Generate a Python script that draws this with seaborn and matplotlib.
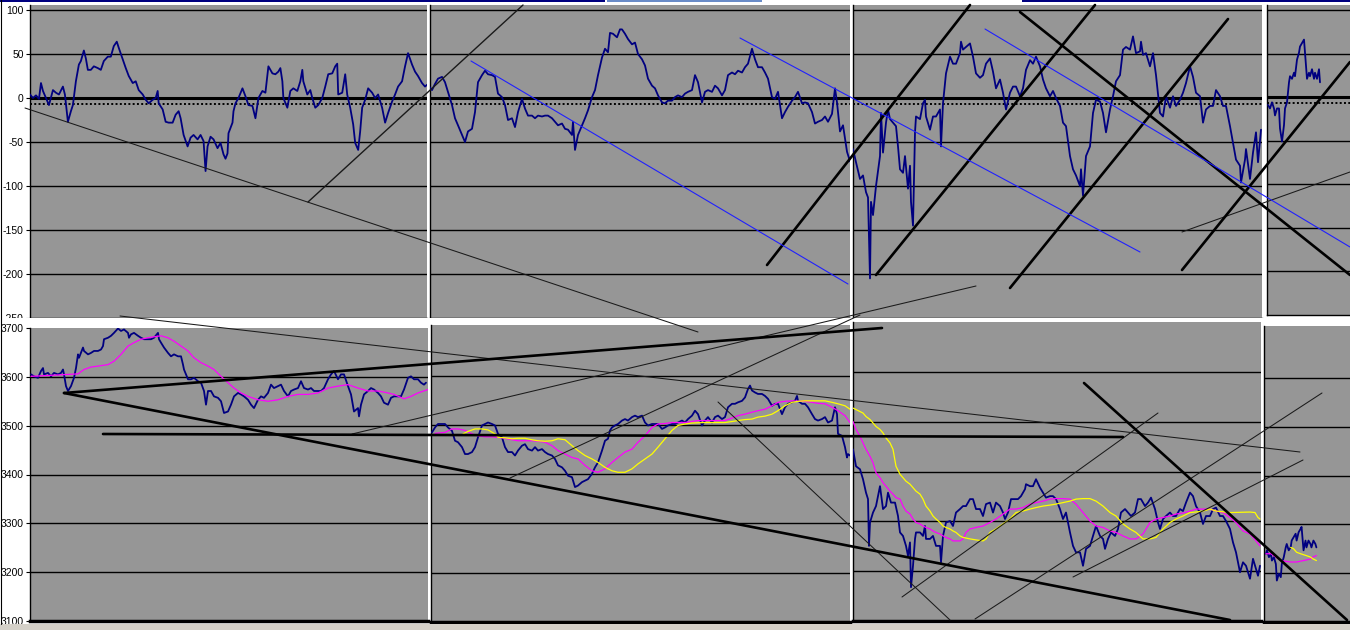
import matplotlib
matplotlib.use("Agg")
import matplotlib.pyplot as plt
import seaborn as sns

# ---- top row: oscillator, (bar, value) per session panel ----
osc_1 = [(0, 4), (3, 0), (6, 3), (9, -1), (11, 17), (13, 8), (16, 0), (19, -8), (23, 9), (26, 6),
         (29, 4), (33, 13), (35, 4), (38, -27), (41, -15), (43, -8), (46, 19), (49, 38), (51, 42), (54, 54),
         (56, 45), (58, 32), (61, 32), (64, 36), (68, 34), (71, 32), (74, 42), (78, 47), (81, 47), (84, 59),
         (87, 64), (89, 57), (93, 44), (96, 34), (99, 25), (103, 17), (106, 19), (109, 9), (113, 4), (116, -2),
         (119, -6), (123, -2), (126, 0), (128, 8), (129, -6), (133, -13), (136, -27), (139, -28), (143, -28), (146, -19),
         (149, -15), (151, -23), (154, -42), (158, -55), (161, -45), (164, -42), (168, -47), (171, -42), (174, -49), (176, -83),
         (178, -55), (181, -44), (184, -47), (188, -57), (191, -51), (194, -64), (196, -69), (198, -63), (199, -40), (203, -28),
         (204, -15), (206, -6), (209, 0), (213, 11), (216, 2), (219, -8), (223, -9), (226, -23), (229, 0), (233, 8),
         (236, 6), (239, 36), (243, 28), (246, 27), (249, 30), (251, 34), (253, 19), (254, 0), (258, -11), (261, 8),
         (264, 11), (268, 8), (271, 19), (273, 32), (274, 19), (278, 4), (281, 9), (283, 0), (286, -11), (289, -8),
         (293, 0), (296, 13), (299, 27), (303, 28), (306, 36), (308, 39), (309, 4), (313, 6), (316, 27), (318, 4),
         (321, -11), (324, -30), (326, -51), (329, -59), (331, -38), (333, -11), (336, -2), (339, 11), (343, 6), (346, 0),
         (349, 4), (353, -11), (356, -28), (359, -17), (363, -4), (366, 4), (369, 13), (373, 19), (376, 36), (379, 51),
         (383, 38), (386, 30), (389, 25), (393, 17), (396, 13), (398, 15)]

osc_2 = [(0, 12), (2, 9), (5, 16), (8, 22), (12, 24), (15, 18), (18, 7), (22, -8), (25, -23), (28, -31),
         (32, -42), (35, -50), (38, -38), (42, -35), (45, -16), (48, 18), (52, 26), (55, 31), (58, 27), (62, 26),
         (65, 24), (68, 5), (72, 1), (75, -8), (78, -25), (82, -23), (85, -33), (88, -16), (92, -1), (95, -12),
         (98, -20), (102, -20), (105, -23), (108, -20), (112, -21), (115, -20), (118, -20), (122, -23), (125, -27), (128, -31),
         (132, -29), (135, -35), (138, -36), (142, -42), (143, -27), (145, -59), (148, -42), (152, -31), (155, -23), (158, -14),
         (162, 1), (165, 9), (168, 26), (172, 46), (175, 56), (178, 52), (180, 74), (183, 73), (187, 69), (190, 78),
         (192, 78), (195, 73), (198, 67), (202, 61), (205, 63), (208, 50), (212, 44), (215, 37), (218, 22), (222, 14),
         (225, 11), (228, 3), (232, -5), (235, -6), (238, -3), (242, -3), (245, 1), (248, 3), (252, 1), (255, 5),
         (258, 7), (262, 9), (265, 26), (268, 18), (272, -5), (275, 7), (278, 9), (282, 7), (285, 14), (288, 11),
         (292, 3), (295, 9), (298, 26), (302, 29), (305, 27), (308, 31), (312, 29), (315, 35), (318, 39), (322, 56),
         (325, 44), (328, 35), (332, 35), (335, 29), (338, 22), (342, 1), (345, -1), (348, 7), (352, -23), (355, -16),
         (358, -10), (362, -3), (365, 1), (368, 7), (372, -6), (375, -5), (378, -6), (382, -16), (385, -29), (388, -27),
         (392, -25), (395, -21), (398, -27), (402, -18), (405, 11), (407, -5), (410, -38), (413, -31), (417, -61), (420, -72)]

osc_3 = [(0, -58), (3, -73), (7, -92), (10, -88), (13, -107), (15, -113), (17, -205), (18, -118), (20, -133), (23, -100),
         (27, -66), (28, -17), (30, -62), (33, -28), (35, -13), (37, -24), (40, -28), (43, -32), (45, -55), (47, -81),
         (50, -85), (52, -66), (55, -103), (57, -77), (58, -118), (60, -145), (62, -39), (63, -21), (67, -24), (70, -6),
         (72, -2), (73, -21), (77, -36), (80, -21), (83, -21), (87, -13), (88, -55), (90, -6), (93, 28), (97, 47),
         (100, 39), (103, 39), (107, 51), (108, 64), (110, 55), (113, 58), (117, 62), (120, 47), (123, 28), (127, 23),
         (130, 26), (133, 39), (137, 45), (140, 30), (143, 11), (147, 21), (150, 6), (153, -13), (157, 6), (160, 13),
         (163, 13), (167, 2), (170, 11), (173, 32), (177, 43), (180, 39), (183, 47), (187, 36), (190, 21), (193, 11),
         (197, 2), (200, 8), (203, 0), (207, -9), (210, -28), (213, -32), (217, -66), (220, -81), (223, -88), (227, -100),
         (228, -81), (230, -111), (233, -66), (237, -55), (240, -17), (243, -2), (247, -4), (250, -17), (253, -39), (257, -13),
         (260, 2), (263, 19), (267, 26), (270, 55), (273, 58), (277, 55), (280, 70), (283, 51), (287, 53), (288, 64),
         (290, 49), (293, 51), (297, 36), (300, 51), (303, 26), (307, -17), (310, -21), (313, 2), (317, -11), (320, 2),
         (323, -9), (327, -2), (330, 6), (333, 17), (337, 36), (340, 24), (343, 6), (347, 2), (350, -28), (353, -13),
         (357, -9), (360, -9), (363, 9), (367, 2), (370, -9), (373, -9), (377, -32), (380, -51), (383, -70), (387, -77),
         (388, -96), (392, -70), (393, -58), (397, -92), (400, -62), (403, -39), (405, -73), (408, -36)]

osc_4 = [(1, -9), (3, -13), (5, -6), (7, -13), (8, -21), (10, -13), (12, -13), (13, -36), (15, -51), (17, -32),
         (18, -13), (20, -6), (22, 17), (23, 24), (25, 21), (27, 28), (28, 24), (30, 43), (32, 51), (33, 58),
         (35, 62), (37, 66), (38, 51), (40, 21), (42, 28), (43, 24), (45, 32), (47, 21), (48, 28), (50, 21),
         (52, 32), (53, 17)]

OSC_DOTTED = -7

# ---- bottom row: price and two moving averages, (bar, value) ----
price_1 = [(0, 3605), (3, 3601), (7, 3598), (10, 3612), (12, 3618), (13, 3605), (17, 3608), (20, 3601), (23, 3608), (27, 3605),
           (30, 3608), (32, 3615), (33, 3605), (35, 3581), (37, 3571), (40, 3581), (43, 3598), (45, 3618), (47, 3646), (48, 3639),
           (52, 3660), (53, 3653), (57, 3646), (60, 3649), (63, 3653), (67, 3653), (70, 3656), (72, 3663), (73, 3677), (77, 3680),
           (80, 3684), (83, 3690), (87, 3699), (90, 3694), (93, 3697), (97, 3690), (98, 3680), (100, 3687), (103, 3690), (107, 3684),
           (110, 3680), (113, 3677), (117, 3677), (120, 3677), (123, 3680), (127, 3690), (128, 3677), (130, 3670), (133, 3660), (137, 3649),
           (140, 3642), (143, 3646), (147, 3642), (150, 3642), (152, 3625), (153, 3615), (157, 3595), (160, 3595), (163, 3598), (167, 3591),
           (170, 3588), (173, 3571), (175, 3543), (177, 3571), (180, 3571), (183, 3560), (187, 3557), (190, 3550), (193, 3526), (197, 3529),
           (200, 3543), (203, 3560), (207, 3567), (210, 3564), (213, 3560), (217, 3553), (220, 3543), (223, 3536), (227, 3553), (230, 3560),
           (233, 3557), (237, 3567), (240, 3584), (243, 3577), (247, 3581), (250, 3584), (253, 3571), (257, 3560), (260, 3571), (263, 3574),
           (267, 3577), (270, 3591), (273, 3577), (277, 3574), (280, 3577), (283, 3571), (287, 3571), (290, 3571), (293, 3577), (297, 3595),
           (300, 3605), (303, 3612), (307, 3595), (310, 3605), (313, 3605), (317, 3581), (320, 3564), (323, 3529), (327, 3536), (328, 3519),
           (330, 3543), (333, 3564), (337, 3571), (340, 3577), (343, 3574), (347, 3567), (350, 3560), (353, 3547), (357, 3543), (360, 3557),
           (363, 3560), (367, 3560), (370, 3560), (373, 3574), (377, 3598), (380, 3601), (383, 3595), (387, 3595), (390, 3588), (393, 3584),
           (395, 3588)]

ma_pink_1 = [(0, 3601), (47, 3606), (53, 3615), (60, 3620), (67, 3622), (77, 3625), (83, 3632), (90, 3646), (97, 3663), (103, 3670),
             (110, 3677), (117, 3680), (123, 3682), (130, 3684), (137, 3680), (143, 3673), (150, 3663), (157, 3653), (163, 3639), (170, 3629),
             (177, 3622), (183, 3615), (190, 3601), (197, 3588), (203, 3577), (210, 3567), (217, 3560), (227, 3553), (237, 3550), (247, 3553),
             (257, 3560), (267, 3564), (277, 3564), (287, 3567), (297, 3577), (307, 3581), (317, 3584), (327, 3577), (337, 3571), (347, 3571),
             (357, 3567), (363, 3564), (373, 3555), (380, 3560), (387, 3567), (397, 3574)]

price_2 = [(1, 3485), (4, 3495), (7, 3502), (11, 3502), (14, 3502), (17, 3495), (21, 3488), (24, 3468), (27, 3465), (31, 3455),
           (34, 3441), (37, 3441), (41, 3445), (44, 3455), (47, 3475), (51, 3499), (54, 3502), (57, 3505), (61, 3502), (64, 3499),
           (67, 3482), (71, 3475), (74, 3455), (77, 3445), (81, 3445), (84, 3438), (87, 3448), (91, 3458), (94, 3461), (97, 3451),
           (101, 3448), (104, 3455), (107, 3448), (111, 3451), (114, 3445), (117, 3441), (121, 3438), (124, 3431), (127, 3418), (131, 3414),
           (134, 3407), (137, 3397), (141, 3394), (144, 3374), (147, 3377), (151, 3384), (154, 3387), (157, 3390), (161, 3401), (164, 3414),
           (167, 3424), (171, 3448), (174, 3468), (177, 3472), (179, 3489), (181, 3495), (184, 3499), (187, 3502), (191, 3509), (194, 3512),
           (197, 3509), (201, 3516), (204, 3519), (207, 3516), (211, 3519), (214, 3505), (217, 3499), (221, 3502), (224, 3502), (227, 3502),
           (231, 3492), (234, 3495), (237, 3499), (241, 3502), (244, 3502), (247, 3505), (251, 3509), (254, 3505), (257, 3512), (261, 3519),
           (264, 3529), (267, 3522), (271, 3499), (274, 3509), (277, 3516), (281, 3505), (284, 3516), (287, 3519), (291, 3512), (294, 3516),
           (297, 3536), (301, 3543), (304, 3543), (307, 3546), (311, 3549), (314, 3556), (317, 3573), (319, 3580), (321, 3570), (324, 3566),
           (327, 3563), (331, 3563), (334, 3559), (337, 3553), (341, 3539), (344, 3543), (347, 3543), (351, 3522), (354, 3536), (357, 3543),
           (361, 3546), (364, 3549), (366, 3559), (367, 3549), (371, 3543), (374, 3543), (377, 3536), (381, 3522), (384, 3512), (387, 3509),
           (391, 3512), (394, 3516), (397, 3505), (401, 3509), (404, 3536), (406, 3522), (407, 3482), (411, 3478), (414, 3455), (416, 3434),
           (417, 3441), (419, 3438)]

ma_pink_2 = [(4, 3483), (14, 3485), (21, 3492), (27, 3492), (34, 3489), (41, 3482), (47, 3478), (54, 3476), (61, 3476), (67, 3475),
             (74, 3473), (81, 3470), (87, 3468), (94, 3468), (101, 3468), (107, 3467), (114, 3465), (121, 3458), (127, 3448), (134, 3441),
             (141, 3434), (147, 3431), (154, 3418), (161, 3407), (167, 3404), (174, 3411), (181, 3424), (187, 3434), (194, 3445), (201, 3451),
             (207, 3465), (214, 3478), (221, 3495), (227, 3502), (234, 3503), (241, 3505), (254, 3505), (267, 3509), (294, 3509), (301, 3514),
             (307, 3519), (314, 3522), (321, 3526), (327, 3529), (334, 3532), (341, 3539), (347, 3546), (354, 3548), (361, 3549), (374, 3548),
             (381, 3546), (387, 3544), (394, 3543), (401, 3536), (407, 3529), (414, 3519), (419, 3505)]

ma_yellow_2 = [(32, 3482), (37, 3487), (44, 3492), (51, 3492), (57, 3490), (64, 3482), (67, 3475), (74, 3474), (81, 3472), (87, 3473),
               (94, 3473), (101, 3470), (107, 3468), (114, 3467), (121, 3468), (127, 3472), (134, 3470), (141, 3458), (147, 3448), (154, 3438),
               (161, 3431), (167, 3424), (174, 3414), (181, 3407), (187, 3404), (194, 3404), (201, 3411), (207, 3421), (214, 3431), (221, 3441),
               (227, 3455), (234, 3472), (241, 3489), (247, 3499), (254, 3502), (261, 3504), (274, 3505), (294, 3505), (301, 3507), (307, 3509),
               (314, 3511), (321, 3512), (327, 3516), (334, 3518), (341, 3522), (347, 3529), (354, 3539), (361, 3546), (367, 3548), (374, 3549),
               (394, 3549), (401, 3546), (407, 3543), (414, 3539), (419, 3532)]

price_3 = [(0, 3445), (3, 3411), (7, 3405), (10, 3385), (13, 3358), (15, 3345), (16, 3251), (17, 3298), (20, 3318), (23, 3331),
           (27, 3371), (30, 3325), (33, 3331), (35, 3358), (38, 3338), (42, 3338), (45, 3311), (47, 3278), (50, 3271), (53, 3251),
           (55, 3231), (57, 3258), (58, 3168), (60, 3211), (62, 3265), (63, 3278), (67, 3278), (70, 3271), (72, 3291), (73, 3265),
           (77, 3265), (80, 3271), (83, 3251), (87, 3251), (88, 3218), (90, 3271), (93, 3298), (97, 3301), (100, 3291), (103, 3318),
           (107, 3325), (110, 3331), (113, 3331), (117, 3345), (120, 3345), (123, 3325), (127, 3325), (130, 3311), (133, 3335), (137, 3338),
           (140, 3318), (143, 3338), (147, 3331), (150, 3318), (152, 3305), (155, 3318), (158, 3345), (162, 3345), (165, 3345), (168, 3351),
           (172, 3365), (173, 3375), (177, 3371), (180, 3371), (183, 3385), (187, 3368), (190, 3358), (193, 3348), (197, 3351), (200, 3351),
           (203, 3345), (207, 3325), (210, 3305), (213, 3318), (217, 3278), (220, 3251), (223, 3238), (227, 3238), (230, 3211), (233, 3245),
           (237, 3251), (240, 3271), (243, 3291), (247, 3271), (250, 3265), (252, 3245), (255, 3265), (258, 3278), (262, 3271), (265, 3285),
           (268, 3318), (272, 3325), (275, 3318), (278, 3311), (282, 3318), (285, 3345), (288, 3345), (292, 3331), (295, 3338), (298, 3348),
           (302, 3325), (305, 3298), (307, 3285), (310, 3305), (313, 3311), (317, 3318), (320, 3311), (323, 3311), (327, 3325), (330, 3321),
           (333, 3338), (337, 3358), (340, 3351), (343, 3331), (347, 3318), (350, 3295), (353, 3311), (357, 3311), (360, 3325), (363, 3328),
           (367, 3311), (370, 3311), (373, 3301), (377, 3285), (380, 3258), (383, 3238), (387, 3198), (390, 3218), (393, 3211), (397, 3185),
           (400, 3225), (403, 3205), (405, 3191), (407, 3211)]

ma_pink_3 = [(0, 3501), (3, 3485), (7, 3471), (10, 3458), (13, 3445), (17, 3431), (20, 3418), (23, 3398), (27, 3388), (30, 3378),
             (33, 3371), (37, 3361), (40, 3355), (43, 3348), (47, 3345), (50, 3331), (53, 3321), (57, 3315), (60, 3305), (63, 3298),
             (67, 3295), (70, 3291), (73, 3288), (77, 3285), (80, 3281), (83, 3278), (87, 3275), (90, 3271), (93, 3268), (97, 3265),
             (100, 3261), (107, 3261), (110, 3265), (113, 3278), (117, 3285), (123, 3288), (130, 3291), (137, 3298), (143, 3305), (150, 3315),
             (157, 3325), (163, 3325), (170, 3328), (177, 3335), (183, 3338), (190, 3341), (197, 3345), (203, 3346), (210, 3346), (217, 3345),
             (223, 3335), (230, 3318), (237, 3301), (243, 3291), (250, 3288), (257, 3281), (263, 3278), (270, 3271), (277, 3265), (283, 3265),
             (290, 3275), (297, 3298), (303, 3305), (310, 3308), (317, 3311), (323, 3315), (330, 3317), (337, 3321), (343, 3325), (357, 3325),
             (363, 3321), (370, 3318), (377, 3308), (383, 3298), (390, 3281), (397, 3275), (403, 3261), (407, 3251)]

ma_yellow_3 = [(0, 3528), (3, 3525), (7, 3521), (10, 3518), (13, 3511), (17, 3505), (20, 3498), (23, 3491), (27, 3485), (30, 3478),
               (33, 3468), (37, 3458), (40, 3445), (43, 3411), (47, 3395), (50, 3388), (53, 3381), (57, 3375), (60, 3368), (63, 3361),
               (67, 3355), (70, 3345), (73, 3331), (77, 3321), (80, 3311), (83, 3305), (87, 3298), (90, 3291), (93, 3288), (97, 3285),
               (100, 3281), (103, 3278), (107, 3271), (110, 3268), (117, 3265), (123, 3263), (130, 3261), (133, 3265), (137, 3278), (143, 3285),
               (150, 3295), (157, 3305), (163, 3318), (170, 3321), (177, 3325), (183, 3328), (190, 3331), (197, 3333), (203, 3335), (210, 3338),
               (217, 3341), (223, 3345), (230, 3346), (237, 3346), (243, 3341), (250, 3331), (257, 3318), (263, 3311), (270, 3295), (277, 3285),
               (283, 3278), (290, 3265), (297, 3265), (303, 3268), (310, 3285), (317, 3298), (323, 3305), (330, 3311), (337, 3318), (343, 3319),
               (350, 3321), (357, 3325), (363, 3321), (377, 3318), (397, 3319), (402, 3318), (405, 3308), (407, 3305)]

price_4 = [(2, 3240), (3, 3247), (5, 3233), (7, 3240), (8, 3226), (10, 3233), (12, 3219), (13, 3185), (15, 3199), (17, 3192),
           (18, 3219), (20, 3233), (22, 3253), (23, 3260), (25, 3247), (27, 3253), (28, 3267), (30, 3274), (32, 3281), (33, 3267),
           (35, 3284), (37, 3291), (38, 3295), (40, 3247), (42, 3267), (43, 3253), (45, 3267), (47, 3260), (48, 3253), (50, 3267),
           (52, 3260), (53, 3253)]

ma_pink_4 = [(2, 3240), (7, 3240), (12, 3233), (17, 3226), (20, 3225), (27, 3223), (33, 3223), (40, 3226), (47, 3229), (50, 3234),
             (53, 3236)]

ma_yellow_4 = [(27, 3253), (30, 3250), (33, 3243), (37, 3240), (40, 3238), (43, 3236), (47, 3233), (50, 3229), (53, 3226)]

# hand-drawn trend lines, in screen pixels (x0, y0, x1, y1)
thin_lines = [(25, 108, 698, 332), (352, 434, 976, 286), (120, 316, 1300, 452), (510, 478, 860, 315),
              (718, 402, 950, 620), (902, 597, 1158, 413), (975, 619, 1322, 393), (1073, 577, 1303, 460),
              (1182, 232, 1350, 172)]
medium_lines = [(308, 202, 523, 5)]
thick_lines = [(767, 265, 970, 5), (876, 275, 1095, 5), (1010, 288, 1228, 19), (1182, 270, 1350, 62),
               (1020, 12, 1350, 275), (64, 393, 882, 328), (64, 393, 1230, 620), (103, 434, 1123, 437),
               (1084, 383, 1347, 620)]
blue_lines = [(471, 61, 848, 284), (740, 38, 1140, 252), (985, 29, 1350, 247)]

GRAY = "#969696"
NAVY = "#000080"
W, H = 1350, 630

sns.set_theme(style="white")
plt.rcParams["font.family"] = ["Liberation Sans", "DejaVu Sans"]

fig = plt.figure(figsize=(13.5, 6.3), dpi=100)
fig.patch.set_facecolor("white")


def px_axes(x0, y0, x1, y1, **kw):
    return fig.add_axes([x0 / W, 1 - y1 / H, (x1 - x0) / W, (y1 - y0) / H], **kw)


def style_panel(ax, xlim, ylim, ticks, grid_vals, labels, bottom_lw):
    ax.set_facecolor(GRAY)
    ax.set_xlim(*xlim)
    ax.set_ylim(*ylim)
    ax.set_xticks([])
    ax.set_yticks(ticks)
    for g in grid_vals:
        ax.axhline(g, color="black", lw=1.0, zorder=1)
    for s in ["top", "right"]:
        ax.spines[s].set_visible(False)
    ax.spines["left"].set_color("black")
    ax.spines["left"].set_linewidth(1.0)
    ax.spines["bottom"].set_color("black")
    ax.spines["bottom"].set_linewidth(bottom_lw)
    if labels:
        ax.set_yticklabels([str(t) for t in ticks], fontsize=7.5)
        ax.tick_params(axis="y", length=3, width=0.8, pad=1.5, colors="black", left=True)
    else:
        ax.set_yticklabels([])
        ax.tick_params(axis="y", length=0)
    ax.set_xlabel("")
    ax.set_ylabel("")


def draw(ax, pts, color, lw):
    xs = [p[0] for p in pts]
    ys = [p[1] for p in pts]
    sns.lineplot(x=xs, y=ys, ax=ax, color=color, lw=lw, estimator=None, sort=False, zorder=3)


# ---- top row ----
top_rects = [(30, 5, 427, 318), (430, 5, 850, 318), (853, 5, 1262, 318), (1267, 5, 1350, 315)]
top_xlims = [(0, 398), (0, 420), (0, 409), (0, 83)]
top_data = [osc_1, osc_2, osc_3, osc_4]
osc_ticks = list(range(-250, 101, 50))
osc_grid = list(range(-200, 101, 50))

for i, (rect, xl, data) in enumerate(zip(top_rects, top_xlims, top_data)):
    ax = px_axes(*rect, zorder=1)
    style_panel(ax, xl, (-250, 105.7), osc_ticks, osc_grid, i == 0, 1.0)
    ax.axhline(0, color="black", lw=2.2, zorder=2)
    ax.axhline(OSC_DOTTED, color="black", lw=1.4, ls=(0, (1, 1.2)), zorder=2)
    draw(ax, data, NAVY, 1.3)

# white chart area behind the bottom row
bg = px_axes(0, 318, 1350, 626, zorder=2)
bg.set_facecolor("white")
bg.set_xticks([])
bg.set_yticks([])
for s in bg.spines.values():
    s.set_visible(False)

# ---- bottom row ----
bot_rects = [(30, 328, 428, 621), (431, 325, 850, 622), (853, 322, 1261, 621), (1264, 326, 1350, 622)]
bot_xlims = [(-1, 397), (0, 419), (0, 408), (0, 87)]
bot_ylims = [(3100, 3700), (3100, 3703), (3100, 3701), (3100, 3707)]
bot_price = [price_1, price_2, price_3, price_4]
bot_pink = [ma_pink_1, ma_pink_2, ma_pink_3, ma_pink_4]
bot_yellow = [None, ma_yellow_2, ma_yellow_3, ma_yellow_4]
price_ticks = list(range(3100, 3701, 100))
price_grid = list(range(3200, 3601, 100))

for i in range(4):
    ax = px_axes(*bot_rects[i], zorder=3)
    style_panel(ax, bot_xlims[i], bot_ylims[i], price_ticks, price_grid, i == 0, 2.5)
    draw(ax, bot_price[i], NAVY, 1.3)
    draw(ax, bot_pink[i], "#ff00ff", 0.9)
    if bot_yellow[i] is not None:
        draw(ax, bot_yellow[i], "#ffff00", 0.9)

# ---- overlay with the drawn lines and window chrome ----
ov = fig.add_axes([0, 0, 1, 1], zorder=20)
ov.set_xlim(0, W)
ov.set_ylim(H, 0)
ov.axis("off")
ov.patch.set_alpha(0)

for x0, y0, x1, y1 in thin_lines:
    ov.plot([x0, x1], [y0, y1], color="#1a1a1a", lw=0.75)
for x0, y0, x1, y1 in medium_lines:
    ov.plot([x0, x1], [y0, y1], color="#1a1a1a", lw=1.0)
for x0, y0, x1, y1 in thick_lines:
    ov.plot([x0, x1], [y0, y1], color="black", lw=1.9)
for x0, y0, x1, y1 in blue_lines:
    ov.plot([x0, x1], [y0, y1], color="#2020ff", lw=0.8)

ov.add_patch(plt.Rectangle((0, 624), W, 6, color="#d4d0c8", lw=0))
ov.add_patch(plt.Rectangle((0, 0), 605, 2, color=NAVY, lw=0))
ov.add_patch(plt.Rectangle((607, 0), 155, 2, color="#6a8cc8", lw=0))
ov.add_patch(plt.Rectangle((1022, 0), 328, 2, color=NAVY, lw=0))
ov.plot([1, 1], [0, 624], color="black", lw=0.8)

fig.savefig("out.png", dpi=100, facecolor="white")
